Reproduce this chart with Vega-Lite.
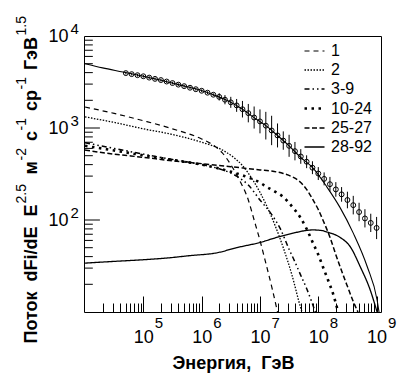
{
  "$schema": "https://vega.github.io/schema/vega-lite/v6.json",
  "width": 297,
  "height": 276,
  "autosize": {"type": "none"},
  "padding": {"left": 84, "top": 36, "right": 26, "bottom": 79},
  "background": "white",
  "config": {
    "view": {"stroke": "black", "strokeWidth": 1},
    "axis": {"grid": false, "domain": false, "tickColor": "black", "tickWidth": 1, "labelColor": "black", "titleColor": "black", "labelFlush": false, "labelOverlap": false, "labelBound": false}
  },
  "datasets": {
    "components": [
      {"s": "1", "e": 1e4, "f": 1690}, {"s": "1", "e": 3.16e4, "f": 1440}, {"s": "1", "e": 1e5, "f": 1200}, {"s": "1", "e": 3.16e5, "f": 980}, {"s": "1", "e": 1e6, "f": 760}, {"s": "1", "e": 1.585e6, "f": 650}, {"s": "1", "e": 2.24e6, "f": 540}, {"s": "1", "e": 3.16e6, "f": 400}, {"s": "1", "e": 4.47e6, "f": 270}, {"s": "1", "e": 6.31e6, "f": 165}, {"s": "1", "e": 7.94e6, "f": 100}, {"s": "1", "e": 1e7, "f": 60}, {"s": "1", "e": 1.26e7, "f": 34}, {"s": "1", "e": 1.585e7, "f": 19}, {"s": "1", "e": 2.0e7, "f": 10},
      {"s": "2", "e": 1e4, "f": 1320}, {"s": "2", "e": 3.16e4, "f": 1150}, {"s": "2", "e": 1e5, "f": 980}, {"s": "2", "e": 3.16e5, "f": 850}, {"s": "2", "e": 1e6, "f": 700}, {"s": "2", "e": 2.0e6, "f": 600}, {"s": "2", "e": 3.47e6, "f": 484}, {"s": "2", "e": 5.01e6, "f": 390}, {"s": "2", "e": 7.59e6, "f": 270}, {"s": "2", "e": 1e7, "f": 200}, {"s": "2", "e": 1.32e7, "f": 140}, {"s": "2", "e": 1.78e7, "f": 90}, {"s": "2", "e": 2.51e7, "f": 50}, {"s": "2", "e": 3.55e7, "f": 25}, {"s": "2", "e": 5.01e7, "f": 11}, {"s": "2", "e": 5.25e7, "f": 10},
      {"s": "3-9", "e": 1e4, "f": 690}, {"s": "3-9", "e": 3.16e4, "f": 600}, {"s": "3-9", "e": 1e5, "f": 520}, {"s": "3-9", "e": 3.16e5, "f": 455}, {"s": "3-9", "e": 1e6, "f": 400}, {"s": "3-9", "e": 2.0e6, "f": 360}, {"s": "3-9", "e": 3.98e6, "f": 300}, {"s": "3-9", "e": 6.31e6, "f": 240}, {"s": "3-9", "e": 1e7, "f": 165}, {"s": "3-9", "e": 1.585e7, "f": 115}, {"s": "3-9", "e": 2.24e7, "f": 80}, {"s": "3-9", "e": 3.16e7, "f": 48}, {"s": "3-9", "e": 3.98e7, "f": 35}, {"s": "3-9", "e": 5.01e7, "f": 25}, {"s": "3-9", "e": 6.31e7, "f": 18}, {"s": "3-9", "e": 8.91e7, "f": 10},
      {"s": "10-24", "e": 1e4, "f": 640}, {"s": "10-24", "e": 3.16e4, "f": 570}, {"s": "10-24", "e": 1e5, "f": 505}, {"s": "10-24", "e": 3.16e5, "f": 450}, {"s": "10-24", "e": 1e6, "f": 400}, {"s": "10-24", "e": 3.16e6, "f": 335}, {"s": "10-24", "e": 6.31e6, "f": 290}, {"s": "10-24", "e": 1e7, "f": 255}, {"s": "10-24", "e": 1.32e7, "f": 228}, {"s": "10-24", "e": 1.78e7, "f": 205}, {"s": "10-24", "e": 2.51e7, "f": 178}, {"s": "10-24", "e": 3.55e7, "f": 140}, {"s": "10-24", "e": 4.9e7, "f": 107}, {"s": "10-24", "e": 6.31e7, "f": 80}, {"s": "10-24", "e": 8.13e7, "f": 56}, {"s": "10-24", "e": 1e8, "f": 42}, {"s": "10-24", "e": 1.2e8, "f": 31}, {"s": "10-24", "e": 1.48e8, "f": 22}, {"s": "10-24", "e": 1.78e8, "f": 16}, {"s": "10-24", "e": 2.19e8, "f": 10},
      {"s": "25-27", "e": 1e4, "f": 575}, {"s": "25-27", "e": 3.16e4, "f": 520}, {"s": "25-27", "e": 1e5, "f": 480}, {"s": "25-27", "e": 3.16e5, "f": 440}, {"s": "25-27", "e": 1e6, "f": 410}, {"s": "25-27", "e": 3.16e6, "f": 380}, {"s": "25-27", "e": 1e7, "f": 350}, {"s": "25-27", "e": 1.585e7, "f": 340}, {"s": "25-27", "e": 2.51e7, "f": 320}, {"s": "25-27", "e": 3.55e7, "f": 295}, {"s": "25-27", "e": 4.9e7, "f": 259}, {"s": "25-27", "e": 6.31e7, "f": 215}, {"s": "25-27", "e": 8.13e7, "f": 165}, {"s": "25-27", "e": 1e8, "f": 130}, {"s": "25-27", "e": 1.2e8, "f": 100}, {"s": "25-27", "e": 1.585e8, "f": 65}, {"s": "25-27", "e": 2.0e8, "f": 42}, {"s": "25-27", "e": 2.51e8, "f": 28}, {"s": "25-27", "e": 3.16e8, "f": 19}, {"s": "25-27", "e": 3.98e8, "f": 13}, {"s": "25-27", "e": 4.79e8, "f": 10},
      {"s": "28-92", "e": 1e4, "f": 34}, {"s": "28-92", "e": 3.16e4, "f": 35.5}, {"s": "28-92", "e": 1e5, "f": 37}, {"s": "28-92", "e": 2.51e5, "f": 38.6}, {"s": "28-92", "e": 6.31e5, "f": 41}, {"s": "28-92", "e": 1.82e6, "f": 44}, {"s": "28-92", "e": 3.98e6, "f": 50}, {"s": "28-92", "e": 1e7, "f": 57}, {"s": "28-92", "e": 2.0e7, "f": 65}, {"s": "28-92", "e": 3.72e7, "f": 72}, {"s": "28-92", "e": 6.31e7, "f": 77}, {"s": "28-92", "e": 8.13e7, "f": 78}, {"s": "28-92", "e": 1.12e8, "f": 77}, {"s": "28-92", "e": 1.41e8, "f": 74}, {"s": "28-92", "e": 2.34e8, "f": 65}, {"s": "28-92", "e": 3.55e8, "f": 51}, {"s": "28-92", "e": 5.25e8, "f": 31}, {"s": "28-92", "e": 7.76e8, "f": 17.4}, {"s": "28-92", "e": 1.02e9, "f": 10}
    ],
    "total": [
      {"e": 1e4, "f": 5000}, {"e": 2.0e4, "f": 4500}, {"e": 4.47e4, "f": 4060}, {"e": 1e5, "f": 3650}, {"e": 1.95e5, "f": 3325}, {"e": 3.98e5, "f": 2960}, {"e": 9.33e5, "f": 2590}, {"e": 1.585e6, "f": 2300}, {"e": 3.09e6, "f": 1918}, {"e": 5.01e6, "f": 1600}, {"e": 7.59e6, "f": 1320}, {"e": 1.26e7, "f": 1060}, {"e": 1.95e7, "f": 840}, {"e": 3.16e7, "f": 640}, {"e": 4.9e7, "f": 484}, {"e": 8.13e7, "f": 367}, {"e": 1.41e8, "f": 228}, {"e": 2.34e8, "f": 138}, {"e": 3.98e8, "f": 72}, {"e": 6.92e8, "f": 31}, {"e": 1.02e9, "f": 13.5}, {"e": 1.1e9, "f": 10}
    ],
    "points": [
      {"e": 5.01e4, "f": 3950, "lo": 3817, "hi": 4088}, {"e": 6.31e4, "f": 3850, "lo": 3720, "hi": 3985}, {"e": 7.94e4, "f": 3750, "lo": 3623, "hi": 3881}, {"e": 1e5, "f": 3650, "lo": 3527, "hi": 3778}, {"e": 1.26e5, "f": 3530, "lo": 3411, "hi": 3654}, {"e": 1.585e5, "f": 3420, "lo": 3304, "hi": 3540}, {"e": 2.0e5, "f": 3320, "lo": 3208, "hi": 3436}, {"e": 2.51e5, "f": 3200, "lo": 3092, "hi": 3312}, {"e": 3.16e5, "f": 3080, "lo": 2976, "hi": 3188}, {"e": 3.98e5, "f": 2960, "lo": 2860, "hi": 3064}, {"e": 5.01e5, "f": 2850, "lo": 2754, "hi": 2950}, {"e": 6.31e5, "f": 2740, "lo": 2647, "hi": 2836}, {"e": 7.94e5, "f": 2640, "lo": 2551, "hi": 2732}, {"e": 1e6, "f": 2540, "lo": 2454, "hi": 2629}, {"e": 1.26e6, "f": 2420, "lo": 2338, "hi": 2505}, {"e": 1.585e6, "f": 2300, "lo": 2222, "hi": 2381},
      {"e": 2.0e6, "f": 2180, "lo": 1989, "hi": 2389}, {"e": 2.51e6, "f": 2030, "lo": 1809, "hi": 2278}, {"e": 3.16e6, "f": 1900, "lo": 1655, "hi": 2181}, {"e": 3.98e6, "f": 1760, "lo": 1498, "hi": 2068}, {"e": 5.01e6, "f": 1600, "lo": 1301, "hi": 1968}, {"e": 6.31e6, "f": 1450, "lo": 1152, "hi": 1826}, {"e": 7.94e6, "f": 1300, "lo": 986, "hi": 1713}, {"e": 1e7, "f": 1180, "lo": 875, "hi": 1592}, {"e": 1.26e7, "f": 1060, "lo": 750, "hi": 1498}, {"e": 1.585e7, "f": 940, "lo": 651, "hi": 1358}, {"e": 2.0e7, "f": 830, "lo": 615, "hi": 1120}, {"e": 2.51e7, "f": 730, "lo": 580, "hi": 919}, {"e": 3.16e7, "f": 640, "lo": 486, "hi": 844}, {"e": 3.98e7, "f": 560, "lo": 445, "hi": 705}, {"e": 5.01e7, "f": 490, "lo": 408, "hi": 589}, {"e": 6.31e7, "f": 430, "lo": 366, "hi": 505}, {"e": 7.94e7, "f": 370, "lo": 315, "hi": 435}, {"e": 1e8, "f": 320, "lo": 272, "hi": 376}, {"e": 1.26e8, "f": 280, "lo": 238, "hi": 329}, {"e": 1.585e8, "f": 245, "lo": 204, "hi": 294}, {"e": 2.0e8, "f": 215, "lo": 179, "hi": 258}, {"e": 2.51e8, "f": 190, "lo": 158, "hi": 228}, {"e": 3.16e8, "f": 165, "lo": 134, "hi": 203}, {"e": 3.98e8, "f": 145, "lo": 115, "hi": 183}, {"e": 5.01e8, "f": 122, "lo": 97, "hi": 154}, {"e": 6.31e8, "f": 104, "lo": 83, "hi": 131}, {"e": 7.94e8, "f": 93, "lo": 74, "hi": 117}, {"e": 1e9, "f": 82, "lo": 62, "hi": 108}
    ],
    "yminor": [{"v": 20}, {"v": 30}, {"v": 40}, {"v": 50}, {"v": 60}, {"v": 70}, {"v": 80}, {"v": 90}, {"v": 200}, {"v": 300}, {"v": 400}, {"v": 500}, {"v": 600}, {"v": 700}, {"v": 800}, {"v": 900}, {"v": 2000}, {"v": 3000}, {"v": 4000}, {"v": 5000}, {"v": 6000}, {"v": 7000}, {"v": 8000}, {"v": 9000}],
    "ymajor": [{"v": 100}, {"v": 1000}]
  },
  "resolve": {"axis": {"x": "independent", "y": "independent"}},
  "layer": [
    {
      "data": {"name": "components"},
      "mark": {"type": "line", "clip": true, "color": "black", "interpolate": "monotone"},
      "encoding": {
        "x": {"field": "e", "type": "quantitative", "scale": {"type": "log", "domain": [9600, 1.19e9], "nice": false},
          "axis": {"orient": "bottom", "offset": -9, "values": [2e4, 3e4, 4e4, 5e4, 6e4, 7e4, 8e4, 9e4, 2e5, 3e5, 4e5, 5e5, 6e5, 7e5, 8e5, 9e5, 2e6, 3e6, 4e6, 5e6, 6e6, 7e6, 8e6, 9e6, 2e7, 3e7, 4e7, 5e7, 6e7, 7e7, 8e7, 9e7, 2e8, 3e8, 4e8, 5e8, 6e8, 7e8, 8e8, 9e8], "tickSize": 9, "labels": false, "title": null}},
        "y": {"field": "f", "type": "quantitative", "scale": {"type": "log", "domain": [10, 10000], "nice": false}, "axis": null},
        "strokeDash": {"field": "s", "type": "nominal",
          "scale": {"domain": ["1", "2", "3-9", "10-24", "25-27", "28-92"], "range": [[5, 4], [1.5, 1.5], [5, 3, 1.5, 3, 1.5, 3], [2.5, 4.5], [5, 2.5], [1, 0]]},
          "legend": {"orient": "none", "legendX": 219, "legendY": 4, "title": null, "symbolType": "stroke", "symbolSize": 400, "symbolStrokeColor": "black", "labelFont": "Liberation Sans Narrow, Liberation Sans, sans-serif", "labelFontSize": 16, "labelColor": "black", "rowPadding": -0.5, "padding": 0, "labelOffset": 5}},
        "strokeWidth": {"field": "s", "type": "nominal",
          "scale": {"type": "ordinal", "domain": ["1", "2", "3-9", "10-24", "25-27", "28-92"], "range": [1.2, 1.3, 1.5, 2.6, 1.5, 1.3]},
          "legend": {"orient": "none", "legendX": 219, "legendY": 4, "title": null, "symbolType": "stroke", "symbolSize": 400, "symbolStrokeColor": "black", "labelFont": "Liberation Sans Narrow, Liberation Sans, sans-serif", "labelFontSize": 16, "labelColor": "black", "rowPadding": -0.5, "padding": 0, "labelOffset": 5}}
      }
    },
    {
      "data": {"name": "total"},
      "mark": {"type": "line", "clip": true, "color": "black", "strokeWidth": 1.1, "interpolate": "monotone"},
      "encoding": {
        "x": {"field": "e", "type": "quantitative", "axis": {"orient": "bottom", "offset": -16, "values": [1e5, 1e6, 1e7, 1e8, 1e9], "tickSize": 16, "labels": false, "title": null}},
        "y": {"field": "f", "type": "quantitative", "axis": null}
      }
    },
    {
      "data": {"name": "points"},
      "mark": {"type": "rule", "clip": true, "color": "black", "strokeWidth": 1},
      "encoding": {
        "x": {"field": "e", "type": "quantitative", "axis": {"orient": "bottom", "values": [1e5, 1e6, 1e7, 1e8, 1e9], "ticks": false, "labelExpr": "'10'", "labelFont": "Liberation Sans Narrow, Liberation Sans, sans-serif", "labelFontSize": 18, "labelPadding": 16, "labelAlign": "center", "labelBaseline": "top",
          "title": "Энергия,\u00a0 ГэВ", "titleFont": "Liberation Sans Narrow, Liberation Sans, sans-serif", "titleFontSize": 18, "titleFontWeight": "bold", "titleAlign": "center", "titleBaseline": "alphabetic", "titleX": 149, "titleY": 56}},
        "y": {"field": "lo", "type": "quantitative", "axis": {"orient": "left", "values": [100, 1000, 10000], "ticks": false, "labelExpr": "'10'", "labelFont": "Liberation Sans Narrow, Liberation Sans, sans-serif", "labelFontSize": 18, "labelPadding": 16, "labelAlign": "right", "labelBaseline": "middle",
          "title": "Поток\u00a0 dFi/dE\u00a0 E\u00a0\u00a0\u00a0\u00a0\u00a0\u00a0м\u00a0\u00a0\u00a0 с\u00a0\u00a0\u00a0 ср\u00a0\u00a0\u00a0 ГэВ", "titleFont": "Liberation Sans", "titleFontSize": 18, "titleFontWeight": "bold", "titleAngle": -90, "titleAlign": "left", "titleBaseline": "alphabetic", "titleX": -48, "titleY": 307}},
        "y2": {"field": "hi"}
      }
    },
    {
      "data": {"name": "points"},
      "mark": {"type": "point", "shape": "circle", "filled": false, "color": "black", "strokeWidth": 1, "size": 24, "opacity": 1},
      "encoding": {
        "x": {"field": "e", "type": "quantitative", "axis": {"orient": "bottom", "values": [1e5, 1e6, 1e7, 1e8, 1e9], "ticks": false, "labelExpr": "'' + round(log(datum.value) / LN10)", "labelFont": "Liberation Sans Narrow, Liberation Sans, sans-serif", "labelFontSize": 15, "labelPadding": 3, "labelAlign": "left", "labelOffset": 11, "labelBaseline": "top", "title": null}},
        "y": {"field": "f", "type": "quantitative", "axis": {"orient": "left", "values": [100, 1000, 10000], "ticks": false, "labelExpr": "'' + round(log(datum.value) / LN10)", "labelFont": "Liberation Sans Narrow, Liberation Sans, sans-serif", "labelFontSize": 15, "labelPadding": 14, "labelAlign": "left", "labelBaseline": "middle", "labelOffset": -8,
          "title": "2.5", "titleFont": "Liberation Sans", "titleFontSize": 14, "titleFontWeight": "normal", "titleAngle": -90, "titleAlign": "left", "titleBaseline": "alphabetic", "titleX": -59, "titleY": 167}}
      }
    },
    {
      "data": {"name": "points"},
      "mark": {"type": "point", "opacity": 0},
      "encoding": {
        "x": {"field": "e", "type": "quantitative", "axis": null},
        "y": {"field": "f", "type": "quantitative", "axis": {"orient": "left", "values": [100], "ticks": false, "labels": false,
          "title": "-2", "titleFont": "Liberation Sans", "titleFontSize": 14, "titleFontWeight": "normal", "titleAngle": -90, "titleAlign": "left", "titleBaseline": "alphabetic", "titleX": -59, "titleY": 124}}
      }
    },
    {
      "data": {"name": "points"},
      "mark": {"type": "point", "opacity": 0},
      "encoding": {
        "x": {"field": "e", "type": "quantitative", "axis": null},
        "y": {"field": "f", "type": "quantitative", "axis": {"orient": "left", "values": [100], "ticks": false, "labels": false,
          "title": "-1", "titleFont": "Liberation Sans", "titleFontSize": 14, "titleFontWeight": "normal", "titleAngle": -90, "titleAlign": "left", "titleBaseline": "alphabetic", "titleX": -59, "titleY": 94}}
      }
    },
    {
      "data": {"name": "points"},
      "mark": {"type": "point", "opacity": 0},
      "encoding": {
        "x": {"field": "e", "type": "quantitative", "axis": null},
        "y": {"field": "f", "type": "quantitative", "axis": {"orient": "left", "values": [100], "ticks": false, "labels": false,
          "title": "-1", "titleFont": "Liberation Sans", "titleFontSize": 14, "titleFontWeight": "normal", "titleAngle": -90, "titleAlign": "left", "titleBaseline": "alphabetic", "titleX": -59, "titleY": 53}}
      }
    },
    {
      "data": {"name": "points"},
      "mark": {"type": "point", "opacity": 0},
      "encoding": {
        "x": {"field": "e", "type": "quantitative", "axis": null},
        "y": {"field": "f", "type": "quantitative", "axis": {"orient": "left", "values": [100], "ticks": false, "labels": false,
          "title": "1.5", "titleFont": "Liberation Sans", "titleFontSize": 14, "titleFontWeight": "normal", "titleAngle": -90, "titleAlign": "left", "titleBaseline": "alphabetic", "titleX": -59, "titleY": -1}}
      }
    },
    {
      "data": {"name": "yminor"},
      "mark": {"type": "rule", "clip": true, "color": "black", "strokeWidth": 1},
      "encoding": {
        "x": {"datum": 9600, "type": "quantitative", "axis": null},
        "x2": {"datum": 13600},
        "y": {"field": "v", "type": "quantitative", "axis": null}
      }
    },
    {
      "data": {"name": "ymajor"},
      "mark": {"type": "rule", "clip": true, "color": "black", "strokeWidth": 1},
      "encoding": {
        "x": {"datum": 9600, "type": "quantitative", "axis": null},
        "x2": {"datum": 18000},
        "y": {"field": "v", "type": "quantitative", "axis": null}
      }
    }
  ]
}
